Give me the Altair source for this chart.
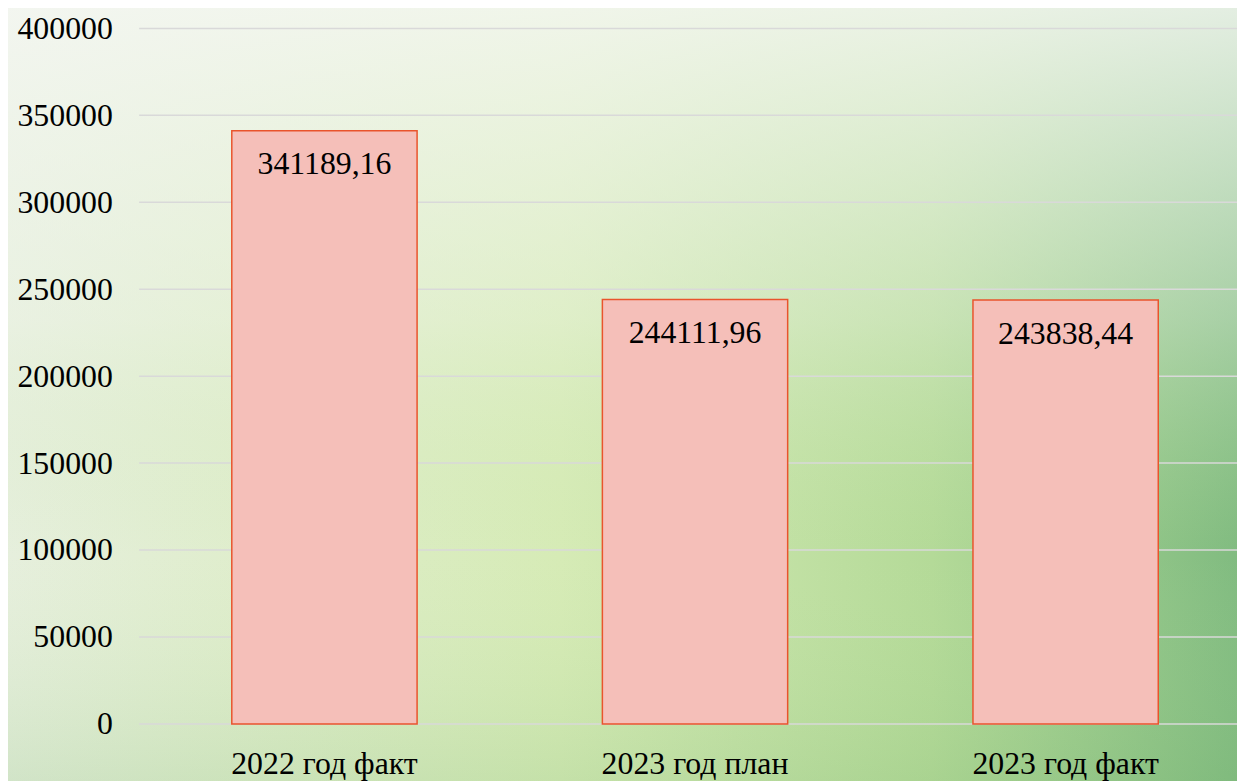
import altair as alt
import pandas as pd

categories = ["2022 год факт", "2023 год план", "2023 год факт"]
values = [341189.16, 244111.96, 243838.44]
value_labels = ["341189,16", "244111,96", "243838,44"]
y_ticks = [0, 50000, 100000, 150000, 200000, 250000, 300000, 350000, 400000]

FONT = "'Times New Roman', 'Liberation Serif', 'DejaVu Serif', serif"

df = pd.DataFrame({"cat": categories, "val": values, "lab": value_labels})
grid_df = pd.DataFrame({"val": y_ticks})
bg_df = pd.DataFrame({"k": [0]})

W, H = 1105, 700
PADL, PADT, PADB = 132, 18, 63

x_axis = alt.Axis(title=None, labelAngle=0, ticks=False, domain=False, grid=False,
                  labelFont=FONT, labelFontSize=32, labelColor="#000000", labelLimit=0,
                  labelPadding=25, labelBaseline="top", zindex=2)
y_axis = alt.Axis(title=None, values=y_ticks, grid=False, ticks=False, domain=False,
                  labelFont=FONT, labelFontSize=32, labelColor="#000000", labelLimit=0,
                  labelPadding=27, format="d", zindex=2)
x_scale = alt.Scale(range=[0, 1119], paddingInner=0.5, paddingOuter=0.25)
y_scale = alt.Scale(domain=[0, 400000], nice=False)

x_enc = alt.X("cat:N", sort=categories, scale=x_scale, axis=x_axis)
y_enc = alt.Y("val:Q", scale=y_scale, axis=y_axis)

rect_pos = dict(x=alt.value(-PADL - 4), x2=alt.value(W + 4),
                y=alt.value(-PADT - 4), y2=alt.value(H + PADB + 4))

bg1 = alt.Chart(bg_df).mark_rect(
    fill=alt.Gradient(
        gradient="linear",
        stops=[
            alt.GradientStop(color="#E6EFDD", offset=0),
            alt.GradientStop(color="#D6EBB6", offset=0.45),
            alt.GradientStop(color="#B4DA98", offset=0.75),
            alt.GradientStop(color="#80BB80", offset=1),
        ],
        x1=0, x2=1, y1=0, y2=0,
    )
).encode(**rect_pos)

bg2 = alt.Chart(bg_df).mark_rect(
    fill=alt.Gradient(
        gradient="linear",
        stops=[
            alt.GradientStop(color="rgba(245,247,243,0.85)", offset=0),
            alt.GradientStop(color="rgba(240,245,235,0.35)", offset=0.4),
            alt.GradientStop(color="rgba(200,230,170,0.0)", offset=0.7),
            alt.GradientStop(color="rgba(120,180,110,0.2)", offset=1),
        ],
        x1=0, x2=0, y1=0, y2=1,
    )
).encode(**rect_pos)

grid = alt.Chart(grid_df).mark_rule(color="#D9D9D9", strokeWidth=1.5).encode(y=y_enc)

bars = alt.Chart(df).mark_bar(
    fill="#F5BFB9", stroke="#E9542C", strokeWidth=1.5
).encode(x=x_enc, y=y_enc)

texts = alt.Chart(df).mark_text(
    font=FONT, fontSize=32, color="#000000", baseline="alphabetic", dy=44
).encode(x=x_enc, y=y_enc, text="lab:N")

chart = alt.layer(bg1, bg2, grid, bars, texts).properties(
    width=W, height=H,
    autosize=alt.AutoSizeParams(type="none"),
    padding={"left": PADL, "top": PADT, "right": 0, "bottom": PADB},
).configure_view(stroke=None).configure(background="#EEF3EA")

chart.save("out.html", embed_options={"renderer": "svg", "actions": False})
